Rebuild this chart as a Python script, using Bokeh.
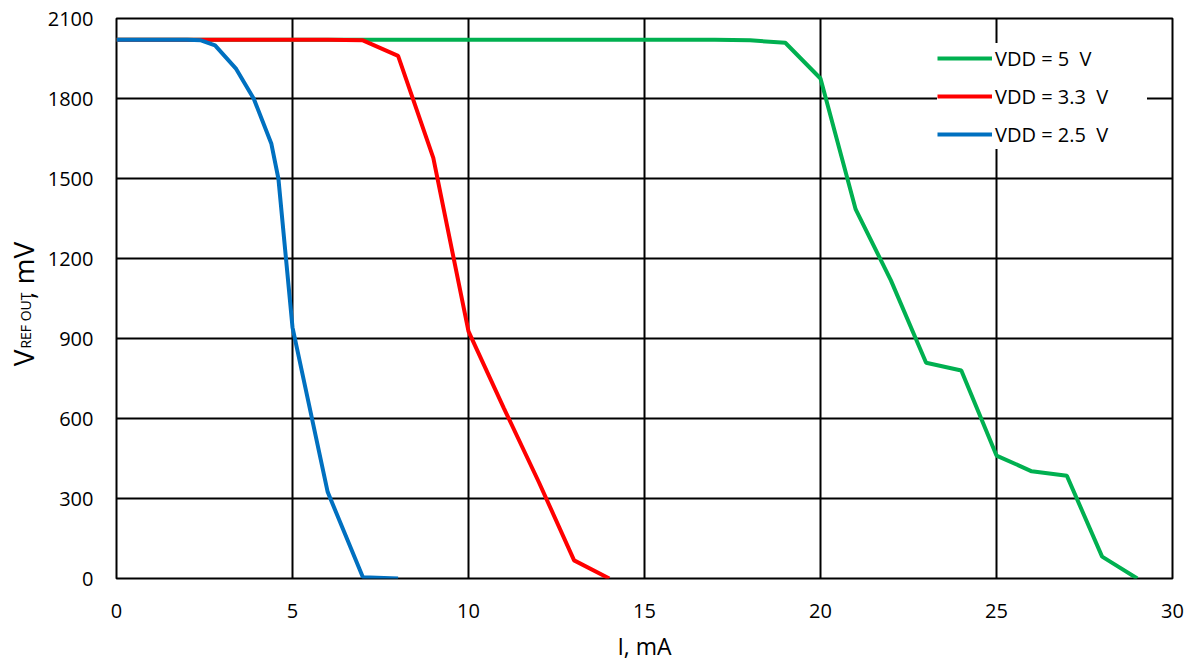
from bokeh.plotting import figure
from bokeh.models import Legend, LegendItem, FixedTicker
from bokeh.layouts import row
from bokeh.core.properties import value
from bokeh.embed import file_html
from bokeh.resources import INLINE
import math

# ---- data ----
x_ticks = [0, 5, 10, 15, 20, 25, 30]
y_ticks = [0, 300, 600, 900, 1200, 1500, 1800, 2100]

green_label = "VDD = 5  V"
green_x = [0, 5, 10, 15, 17, 18, 19, 20, 21, 22, 23, 24, 25, 26, 27, 28, 29]
green_y = [2020, 2020, 2020, 2020, 2020, 2018, 2009, 1875, 1384, 1118, 809, 780, 461, 402, 385, 82, 0]

red_label = "VDD = 3.3  V"
red_x = [0, 2, 4, 6, 7, 8, 9, 10, 11, 12, 13, 14]
red_y = [2020, 2020, 2020, 2020, 2018, 1960, 1577, 927, 640, 361, 68, 0]

blue_label = "VDD = 2.5  V"
blue_x = [0, 1, 2, 2.4, 2.8, 3.4, 3.9, 4.4, 4.6, 5, 6, 7, 8]
blue_y = [2020, 2020, 2020, 2018, 1999, 1911, 1799, 1630, 1499, 942, 324, 5, 0]

y_title_parts = ["V", "REF OUT", ", mV"]

FONT = "Open Sans"
W_LEFT = 44
H = 665

# ---- narrow side panel holding the y-axis title ----
side = figure(width=W_LEFT, height=H, x_range=(0, W_LEFT), y_range=(0, H),
              output_backend="svg", toolbar_location=None,
              x_axis_location=None, y_axis_location=None,
              min_border=0, outline_line_color=None)
side.grid.visible = False
title_start = [H - 413, H - 392, H - 333]   # pixel positions along the axis
title_center = [22, 25, 22]                  # pixel position across the axis
title_size = ["28px", "14px", "28px"]
for txt, xs, ys, sz in zip(y_title_parts, title_center, title_start, title_size):
    side.text(x=[xs], y=[ys], text=[txt], angle=math.pi / 2,
              text_font=value(FONT), text_font_size=sz,
              text_align="left", text_baseline="middle", text_color="black")

# ---- main chart ----
p = figure(width=1190 - W_LEFT, height=H, x_range=(0, 30), y_range=(0, 2100),
           output_backend="svg", toolbar_location=None,
           min_border_left=116 - W_LEFT, min_border_right=18, min_border_top=18,
           min_border_bottom=87)

p.outline_line_color = "black"
p.outline_line_width = 2

for ax in (p.xaxis[0], p.yaxis[0]):
    ax.axis_line_color = None
    ax.major_tick_line_color = None
    ax.minor_tick_line_color = None
    ax.major_label_text_font = FONT
    ax.major_label_text_font_size = "20px"
    ax.major_label_text_color = "black"

p.xaxis[0].major_label_standoff = 19
p.yaxis[0].major_label_standoff = 17

p.xaxis[0].ticker = FixedTicker(ticks=x_ticks)
p.yaxis[0].ticker = FixedTicker(ticks=y_ticks)

p.xaxis[0].axis_label = "I, mA"
p.xaxis[0].axis_label_text_font = FONT
p.xaxis[0].axis_label_text_font_size = "23px"
p.xaxis[0].axis_label_text_font_style = "normal"
p.xaxis[0].axis_label_text_color = "black"
p.xaxis[0].axis_label_standoff = 9

for g in (p.xgrid[0], p.ygrid[0]):
    g.grid_line_color = "black"
    g.grid_line_width = 2

p.xgrid[0].ticker = FixedTicker(ticks=x_ticks)
p.ygrid[0].ticker = FixedTicker(ticks=y_ticks)

rg = p.line(green_x, green_y, line_color="#00B050", line_width=4)
rr = p.line(red_x, red_y, line_color="#FF0000", line_width=4)
rb = p.line(blue_x, blue_y, line_color="#0070C0", line_width=4)

legend = Legend(items=[LegendItem(label=green_label, renderers=[rg]),
                       LegendItem(label=red_label, renderers=[rr]),
                       LegendItem(label=blue_label, renderers=[rb])],
                location="top_right", margin=25, padding=5, spacing=8,
                glyph_width=55, glyph_height=30, label_height=30,
                label_width=152, label_standoff=3,
                label_text_font=FONT, label_text_font_size="20px",
                label_text_color="black",
                background_fill_color="white", background_fill_alpha=1.0,
                border_line_color=None)
p.add_layout(legend)

layout = row(side, p, spacing=0)
open("out.html", "w").write(file_html(layout, INLINE))
